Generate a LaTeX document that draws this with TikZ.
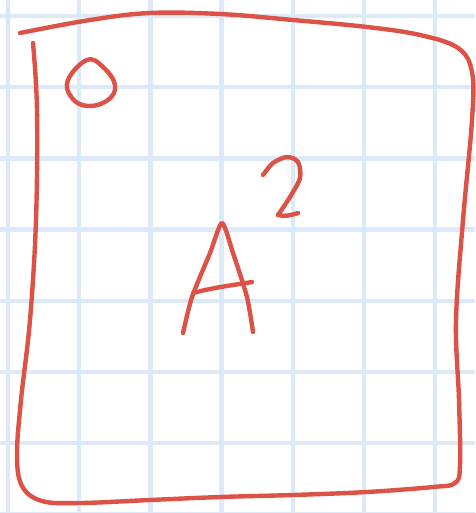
\documentclass[tikz,border=0pt]{standalone}
\definecolor{gridblue}{RGB}{220,233,249}
\definecolor{inkred}{RGB}{220,82,70}
\tikzset{
  gridline/.style={draw=gridblue, line width=4.5pt},
  ink/.style={draw=inkred, line width=4.4pt, line cap=round, line join=round}
}
\begin{document}
\begin{tikzpicture}[x=1pt,y=-1pt]
\useasboundingbox (0,0) rectangle (475,513);
\fill[white] (0,0) rectangle (475,513);
% grid
\foreach \i in {0,...,6} {
  \draw[gridline] ({8+71.2*\i},0) -- ({8+71.2*\i},513);
}
\foreach \j in {0,...,7} {
  \draw[gridline] (0,{16+71.2*\j}) -- (475,{16+71.2*\j});
}
% outline
\draw[ink] plot[smooth, tension=0.6] coordinates {
 (33,43) (37,110) (36,220) (30,320) (21,400) (17,455) (22,486) (42,501)
 (80,503) (150,500) (220,497) (293,495) (367,492) (433,487) (455,483)
 (460,465) (459,400) (456,320) (463,220) (472,120) (472,72) (458,48)
 (420,35) (367,27) (293,20) (220,14) (150,13) (90,20) (20,33)};
% small circle
\draw[ink] plot[smooth cycle, tension=0.7] coordinates {
 (87,60) (103,67) (115,85) (108,100) (88,106) (72,98) (68,80)};
% A
\draw[ink] plot[smooth, tension=0.4] coordinates {
 (183,333) (192,297) (210,253) (222,223) (233,253) (247,297) (253,332)};
\draw[ink] (193,293) .. controls (215,287) and (235,285) .. (252,282);
% 2
\draw[ink] plot[smooth, tension=0.5] coordinates {
 (263,175) (273,163) (287,157) (298,162) (300,178) (290,197) (278,215)};
\draw[ink] (278,215) .. controls (285,217) and (292,215) .. (298,213);
\end{tikzpicture}
\end{document}
